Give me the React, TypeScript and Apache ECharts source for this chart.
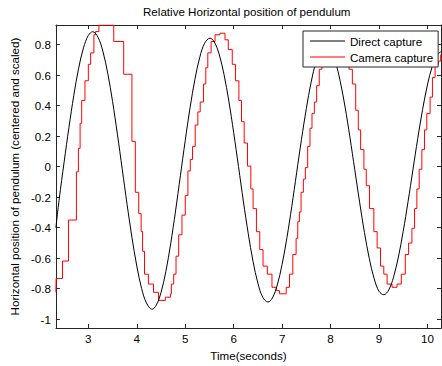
import React, { useEffect, useRef } from "react";
import * as echarts from "echarts";

const titleText = "Relative Horizontal position of pendulum";
const xName = "Time(seconds)";
const yName = "Horizontal position of pendulum (centered and scaled)";
const seriesNames = ["Direct capture", "Camera capture"];

const directTime = [
  2.33, 2.4, 2.5, 2.6, 2.7, 2.8, 2.9, 3.0, 3.09, 3.2, 3.3, 3.4, 3.5, 3.6, 3.7, 3.8, 3.9, 4.0, 4.1, 4.2,
  4.317, 4.4, 4.5, 4.6, 4.7, 4.8, 4.9, 5.0, 5.1, 5.2, 5.3, 5.4, 5.513, 5.6, 5.7, 5.8, 5.9, 6.0, 6.1, 6.2,
  6.3, 6.4, 6.5, 6.6, 6.709, 6.8, 6.9, 7.0, 7.1, 7.2, 7.3, 7.4, 7.5, 7.6, 7.7, 7.8, 7.905, 8.0, 8.1, 8.2,
  8.3, 8.4, 8.5, 8.6, 8.7, 8.8, 8.9, 9.0, 9.1, 9.2, 9.3, 9.4, 9.5, 9.6, 9.7, 9.8, 9.9, 10.0, 10.1, 10.2, 10.28,
];
const directValue = [
  -0.4, -0.21, 0.03, 0.258, 0.468, 0.646, 0.779, 0.861, 0.885, 0.849, 0.757, 0.613, 0.428, 0.213, -0.017, -0.248, -0.463, -0.651, -0.799, -0.894,
  -0.935, -0.91, -0.826, -0.688, -0.505, -0.291, -0.06, 0.171, 0.387, 0.573, 0.717, 0.809, 0.843, 0.818, 0.738, 0.606, 0.431, 0.224, 0.0, -0.226,
  -0.437, -0.621, -0.764, -0.856, -0.888, -0.861, -0.776, -0.641, -0.465, -0.26, -0.04, 0.179, 0.381, 0.556, 0.689, 0.772, 0.8, 0.77, 0.69, 0.56,
  0.391, 0.193, -0.02, -0.233, -0.432, -0.603, -0.734, -0.817, -0.84, -0.809, -0.725, -0.593, -0.424, -0.229, -0.021, 0.185, 0.375, 0.536, 0.658, 0.732, 0.754,
];

const cameraTime = [
  2.33, 2.335, 2.467, 2.59, 2.754, 2.795, 2.83, 2.863, 2.93, 3.0, 3.047, 3.115, 3.15, 3.218, 3.525, 3.73, 3.9, 3.97, 4.04, 4.09,
  4.12, 4.16, 4.24, 4.345, 4.45, 4.59, 4.694, 4.714, 4.762, 4.81, 4.865, 4.933, 5.001, 5.056, 5.104, 5.151, 5.206, 5.261, 5.309, 5.377,
  5.425, 5.466, 5.534, 5.616, 5.718, 5.821, 5.889, 5.971, 6.039, 6.108, 6.162, 6.217, 6.285, 6.354, 6.401, 6.47, 6.538, 6.606, 6.695, 6.791,
  6.88, 6.948, 7.084, 7.153, 7.221, 7.289, 7.323, 7.357, 7.391, 7.439, 7.48, 7.528, 7.576, 7.617, 7.665, 7.713, 7.767, 7.822, 7.88, 7.96,
  8.05, 8.16, 8.24, 8.3, 8.382, 8.45, 8.519, 8.573, 8.621, 8.689, 8.737, 8.805, 8.894, 8.962, 9.031, 9.099, 9.167, 9.27, 9.372, 9.461,
  9.543, 9.611, 9.68, 9.734, 9.782, 9.83, 9.885, 9.939, 9.987, 10.055, 10.103, 10.158, 10.226, 10.274, 10.28,
];
const cameraValue = [
  -0.824, -0.733, -0.619, -0.35, -0.034, 0.12, 0.284, 0.434, 0.563, 0.671, 0.746, 0.865, 0.886, 0.929, 0.821, 0.606, 0.166, -0.168, -0.308, -0.426,
  -0.555, -0.705, -0.77, -0.824, -0.877, -0.856, -0.834, -0.77, -0.705, -0.587, -0.447, -0.318, -0.189, -0.028, 0.047, 0.133, 0.273, 0.359, 0.424, 0.542,
  0.649, 0.746, 0.821, 0.865, 0.875, 0.832, 0.768, 0.671, 0.563, 0.434, 0.295, 0.155, 0.004, -0.146, -0.275, -0.426, -0.544, -0.652, -0.705, -0.791,
  -0.813, -0.834, -0.791, -0.705, -0.576, -0.47, -0.361, -0.297, -0.168, -0.082, -0.006, 0.133, 0.252, 0.348, 0.424, 0.531, 0.639, 0.692, 0.75, 0.8,
  0.83, 0.8, 0.75, 0.692, 0.639, 0.542, 0.37, 0.241, 0.112, -0.017, -0.125, -0.275, -0.426, -0.533, -0.652, -0.705, -0.77, -0.791, -0.77, -0.705,
  -0.576, -0.501, -0.404, -0.275, -0.146, -0.017, 0.112, 0.241, 0.348, 0.456, 0.585, 0.671, 0.692, 0.735, 0.735,
];

const xMin = 2.33;
const xMax = 10.28;
const yMin = -1.058;
const yMax = 0.929;

export default function App() {
  const ref = useRef<HTMLDivElement>(null);
  useEffect(() => {
    const chart = echarts.init(ref.current as HTMLDivElement, null, { renderer: "svg" });
    const font = "'Liberation Sans', Arial, sans-serif";
    const fs = 11.6;
    const axisColor = "#262626";
    const lineStyle = { color: axisColor, width: 1 };
    const xFmt = (v: number) => (Math.abs(v - Math.round(v)) < 1e-6 ? String(Math.round(v)) : "");
    const yFmt = (v: number) => (Math.abs(v * 5 - Math.round(v * 5)) < 1e-6 ? String(Math.round(v * 10) / 10) : "");
    const baseX = {
      type: "value",
      min: xMin,
      max: xMax,
      splitNumber: 8,
      splitLine: { show: false },
      axisLine: { show: true, onZero: false, lineStyle },
      axisTick: { show: true, inside: true, length: 4, lineStyle },
    };
    const baseY = {
      type: "value",
      min: yMin,
      max: yMax,
      splitNumber: 10,
      splitLine: { show: false },
      axisLine: { show: true, onZero: false, lineStyle },
      axisTick: { show: true, inside: true, length: 4, lineStyle },
    };
    const option: any = {
      animation: false,
      backgroundColor: "#fff",
      title: {
        text: titleText,
        left: 143,
        top: 5,
        padding: 0,
        textStyle: { fontSize: fs, fontWeight: "normal", color: "#000", fontFamily: font },
      },
      legend: {
        orient: "vertical",
        left: 303,
        top: 31,
        padding: [4, 5, 4, 7],
        icon: "rect",
        itemWidth: 35,
        itemHeight: 1,
        itemGap: 4,
        backgroundColor: "#fff",
        borderColor: axisColor,
        borderWidth: 1,
        borderRadius: 0,
        selectedMode: false,
        textStyle: { fontSize: fs, color: "#000", fontFamily: font },
        data: seriesNames,
        z: 10,
      },
      grid: { left: 53, right: 1, top: 25, bottom: 33, containLabel: false },
      xAxis: [
        {
          ...baseX,
          position: "bottom",
          axisLabel: { show: true, margin: 4, color: "#000", fontSize: fs, fontFamily: font, formatter: xFmt, showMinLabel: false, showMaxLabel: false },
          name: xName,
          nameLocation: "middle",
          nameGap: 21,
          nameTextStyle: { fontSize: fs, color: "#000", fontFamily: font },
        },
        { ...baseX, position: "top", axisLabel: { show: false } },
      ],
      yAxis: [
        {
          ...baseY,
          position: "left",
          axisLabel: { show: true, margin: 5, color: "#000", fontSize: fs, fontFamily: font, formatter: yFmt, showMinLabel: false, showMaxLabel: false },
          name: yName,
          nameLocation: "middle",
          nameGap: 32,
          nameTextStyle: { fontSize: fs, color: "#000", fontFamily: font },
        },
        { ...baseY, position: "right", axisLabel: { show: false } },
      ],
      series: [
        {
          name: seriesNames[0],
          type: "line",
          xAxisIndex: 0,
          yAxisIndex: 0,
          data: directTime.map((t, i) => [t, directValue[i]]),
          showSymbol: false,
          symbol: "none",
          smooth: 0.35,
          lineStyle: { color: "#000", width: 1 },
          itemStyle: { color: "#000" },
          z: 3,
        },
        {
          name: seriesNames[1],
          type: "line",
          xAxisIndex: 0,
          yAxisIndex: 0,
          data: cameraTime.map((t, i) => [t, cameraValue[i]]),
          step: "end",
          showSymbol: false,
          symbol: "none",
          lineStyle: { color: "#ff0000", width: 1 },
          itemStyle: { color: "#ff0000" },
          z: 2,
        },
      ],
    };
    chart.setOption(option);
    return () => chart.dispose();
  }, []);
  return (
    <div
      ref={ref}
      style={{ position: "fixed", left: 0, top: 0, width: 442, height: 366, background: "#fff" }}
    />
  );
}
